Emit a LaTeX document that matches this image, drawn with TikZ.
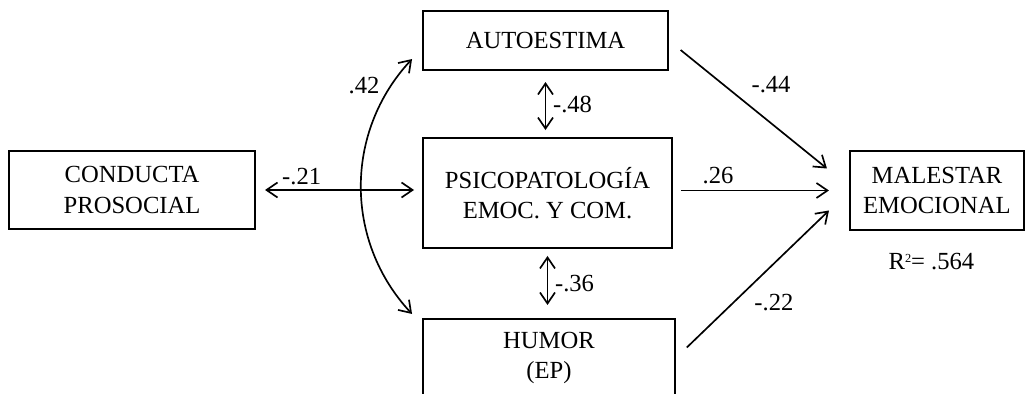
\documentclass[tikz,border=0pt]{standalone}
\usepackage{fontspec}
\setmainfont{Liberation Serif}
\usepackage{tikz}
\usetikzlibrary{calc}
\usetikzlibrary{arrows.meta}
\usetikzlibrary{positioning}

\begin{document}
\begin{tikzpicture}[
    caja/.style={draw, line width=1.1pt, align=center, inner sep=0pt,
      font=\fontsize{14}{17.4}\selectfont},
    lbl/.style={inner sep=1pt, font=\fontsize{14}{17}\selectfont},
    arr/.style={line width=0.95pt, -{Straight Barb[length=0.22cm, width=0.3cm]}},
    dbl/.style={line width=0.95pt, {Straight Barb[length=0.22cm, width=0.3cm]}-{Straight Barb[length=0.22cm, width=0.3cm]}}]
      \clip (0,0) rectangle (20.54,7.88);
      \node[caja, minimum width=4.98cm, minimum height=2.2cm] (PS) at (10.95,4.02) {PSICOPATOLOGÍA\\EMOC. Y COM.};
      \node[caja, minimum width=4.90cm, minimum height=1.18cm, above=1.32cm of PS.north west, anchor=south west] (AE) {AUTOESTIMA};
      \node[caja, minimum width=5.04cm, minimum height=1.56cm, below=1.38cm of PS.south west, anchor=north west] (HU) {HUMOR\\(EP)};
      \node[caja, minimum width=4.92cm, minimum height=1.56cm, left=3.32cm of PS, yshift=0.06cm] (CP) {CONDUCTA\\PROSOCIAL};
      \node[caja, minimum width=3.48cm, minimum height=1.58cm, right=3.52cm of PS, yshift=0.05cm] (ME) {MALESTAR\\EMOCIONAL};
      \node[lbl, below=0.4cm of ME, xshift=-0.11cm] (R2) {R\raisebox{0.6ex}{\fontsize{7}{7}\selectfont 2}= .564};
      \coordinate (a1) at ($(AE.south west)+(-0.2,0.24)$);
      \coordinate (a2) at ($(HU.north west)+(-0.2,0.08)$);
      \coordinate (m1) at ($(ME.west)+(-0.44,0.44)$);
      \coordinate (m3) at ($(ME.west)+(-0.4,-0.4)$);
      \draw[dbl, shorten <=0.18cm, shorten >=0.16cm] (CP.east) -- (CP.east -| PS.west)
        node[lbl, pos=.275, yshift=0.26cm] {-.21};
      \draw[dbl] (a1) to[bend right=43] (a2);
      \node[lbl] (r42) at ($(a1)+(-0.96,-0.54)$) {.42};
      \draw[dbl, shorten <=0.22cm, shorten >=0.14cm] (AE.south) -- (AE.south |- PS.north)
        node[lbl, midway, right=0.1cm] {-.48};
      \draw[dbl, shorten <=0.14cm, shorten >=0.26cm] (PS.south) -- (PS.south |- HU.north)
        node[lbl, midway, right=0.1cm] {-.36};
      \draw[arr, shorten <=0.3cm] (AE.east) -- (m1)
        node[lbl, pos=.646, yshift=0.78cm] {-.44};
      \draw[arr, shorten <=0.16cm, shorten >=0.4cm] (PS.east |- ME.west) -- (ME.west)
        node[lbl, pos=.256, yshift=0.3cm] {.26};
      \draw[arr, shorten <=0.3cm] (HU.east) -- (m3)
        node[lbl, pos=.64, yshift=-0.78cm] {-.22};
\end{tikzpicture}
\end{document}
